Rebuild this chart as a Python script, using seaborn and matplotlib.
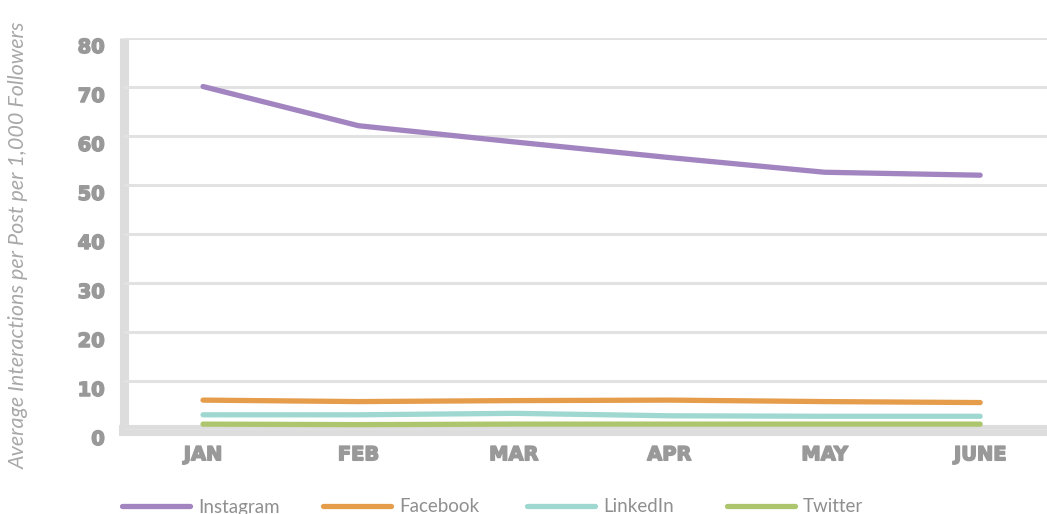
import matplotlib
matplotlib.use("Agg")
import matplotlib.pyplot as plt
import matplotlib.patheffects as pe
import seaborn as sns
import pandas as pd
from matplotlib.lines import Line2D

months = ["JAN", "FEB", "MAR", "APR", "MAY", "JUNE"]
instagram = [70.1, 62.1, 58.8, 55.6, 52.6, 52.0]
facebook = [6.1, 5.8, 6.0, 6.1, 5.8, 5.6]
linkedin = [3.1, 3.1, 3.4, 2.9, 2.8, 2.8]
twitter = [1.2, 1.1, 1.2, 1.2, 1.2, 1.2]
platforms = ["Instagram", "Facebook", "LinkedIn", "Twitter"]
colors = ["#a285c0", "#e59c4b", "#9fd8d0", "#adc66e"]
yticks = [0, 10, 20, 30, 40, 50, 60, 70, 80]

series = [instagram, facebook, linkedin, twitter]
rows = []
for name, vals in zip(platforms, series):
    for m, v in zip(months, vals):
        rows.append({"Month": m, "Value": v, "Platform": name})
df = pd.DataFrame(rows)

sns.set_theme(style="white")
plt.rcParams["font.family"] = ["Lato", "DejaVu Sans"]

fig = plt.figure(figsize=(10.47, 5.14), dpi=100)
ax = fig.add_axes([0.1185, 1 - 430 / 514, 1 - 0.1185, (430 - 38) / 514])

sns.lineplot(data=df, x="Month", y="Value", hue="Platform", hue_order=platforms,
             palette=colors, linewidth=3.8, sort=False, ax=ax, legend=False)
for ln in ax.get_lines():
    ln.set_solid_capstyle("round")
    ln.set_solid_joinstyle("round")

heavy = [pe.withStroke(linewidth=1.1, foreground="#999999")]
tick_font = dict(fontfamily="DejaVu Sans", fontweight="bold", fontsize=14,
                 color="#999999", path_effects=heavy)
ax.set_ylim(0, 80)
ax.set_xlim(-0.508, 5.43)
ax.set_yticks(yticks, labels=[str(v) for v in yticks], va="top", **tick_font)
ax.set_xticks(range(len(months)), labels=months, **tick_font)
ax.yaxis.grid(True, color="#e2e2e2", linewidth=2.2)
ax.xaxis.grid(False)
ax.set_axisbelow(True)

for s in ["top", "right"]:
    ax.spines[s].set_visible(False)
ax.spines["left"].set_color("#dddddd")
ax.spines["left"].set_linewidth(6.5)
ax.spines["left"].set_capstyle("butt")
ax.spines["bottom"].set_color("#dddddd")
ax.spines["bottom"].set_linewidth(8)
ax.spines["left"].set_zorder(0.5)
ax.spines["bottom"].set_zorder(0.5)

ax.tick_params(axis="both", length=0)
ax.tick_params(axis="y", pad=14)
ax.tick_params(axis="x", pad=11)

ax.set_xlabel("")
ax.set_ylabel("")
fig.text(0.018, 0.523, "Average Interactions per Post per 1,000 Followers",
         rotation=90, ha="center", va="center", fontsize=15.5, style="italic",
         fontweight="normal", color="#a8a8a8")

leg_x = [122, 323, 527, 727]
for name, col, px in zip(platforms, colors, leg_x):
    h = Line2D([0], [0], color=col, linewidth=3.8, solid_capstyle="round")
    fig.legend([h], [name], loc="center left", bbox_to_anchor=(px / 1047, 1 - 507 / 514),
               frameon=False, handlelength=3.6, handletextpad=0.45, fontsize=13.5,
               labelcolor="#8f8f8f", borderaxespad=0, borderpad=0)

fig.savefig("out.png", dpi=100)
